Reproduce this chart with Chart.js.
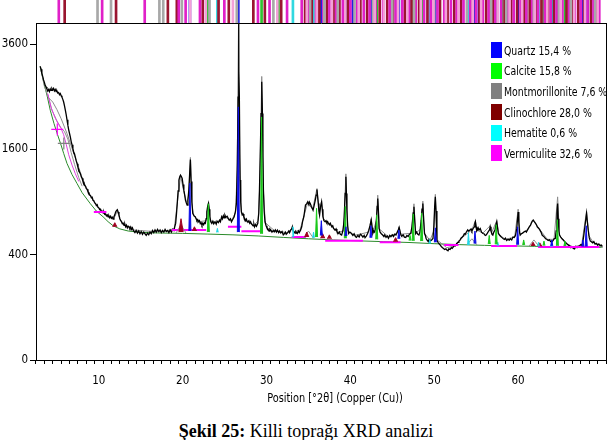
<!DOCTYPE html>
<html lang="tr">
<head>
<meta charset="UTF-8">
<title>Killi toprağı XRD analizi</title>
<script src="https://cdn.jsdelivr.net/npm/chart.js"></script>
<style>
  body { margin: 0; background: #fff; }
  .wrap { position: relative; width: 612px; height: 440px; overflow: hidden; }
  #xrd { position: absolute; left: 0; top: 0; }
  .narrow { font-family: 'DejaVu Sans Condensed', 'DejaVu Sans', sans-serif; font-stretch: condensed; }
  .legend { position: absolute; left: 491px; top: 40px; font-size: 13px; color: #000; }
  .legend .row { height: 20.6px; display: flex; align-items: center; white-space: nowrap; }
  .legend .sw { width: 11px; height: 16px; margin-right: 2px; flex: none; }
  .legend .txt { display: inline-block; transform: scaleX(0.8); transform-origin: left center; }
  .xtitle { position: absolute; left: 235px; width: 200px; top: 390px; text-align: center; font-size: 12.5px;
            transform: scaleX(0.87); }
  .caption { position: absolute; left: 0; width: 612px; top: 421px; text-align: center;
             font: 18px 'Liberation Serif', 'Times New Roman', serif; }
</style>
</head>
<body>
<div class="wrap">
  <canvas id="xrd" width="612" height="400"></canvas>
  <div class="legend narrow" id="legend"></div>
  <div class="xtitle narrow">Position [°2θ] (Copper (Cu))</div>
  <div class="caption"><b>Şekil 25:</b> Killi toprağı XRD analizi</div>
</div>

<script>
  // measured pattern, [2theta, counts]
  const observed = [
    [3.0,3110],[3.1,3050],[3.2,2960],[3.3,2900],[3.4,2830],[3.5,2780],[3.6,2720],[3.7,2690],[3.8,2650],[3.9,2610],
    [4.0,2640],[4.1,2600],[4.2,2650],[4.3,2620],[4.4,2660],[4.5,2630],[4.6,2660],[4.7,2610],[4.8,2640],[4.9,2600],
    [5.0,2610],[5.1,2570],[5.2,2580],[5.3,2540],[5.4,2560],[5.5,2520],[5.6,2490],[5.7,2450],[5.8,2400],[5.9,2330],
    [6.0,2250],[6.1,2170],[6.2,2080],[6.3,1990],[6.4,1910],[6.5,1850],[6.6,1790],[6.7,1720],[6.8,1670],[6.9,1610],
    [7.0,1560],[7.1,1530],[7.2,1480],[7.3,1430],[7.4,1390],[7.5,1340],[7.6,1310],[7.7,1270],[7.8,1250],[7.9,1210],
    [8.0,1190],[8.1,1150],[8.2,1140],[8.3,1100],[8.4,1090],[8.5,1060],[8.6,1050],[8.7,1020],[8.8,1010],[8.9,980],
    [9.0,975],[9.1,950],[9.2,955],[9.3,920],[9.4,915],[9.5,890],[9.6,885],[9.7,860],[9.8,870],[9.9,840],
    [10.0,835],[10.1,815],[10.2,820],[10.3,795],[10.4,800],[10.5,780],[10.6,790],[10.7,765],[10.8,770],[10.9,750],
    [11.0,760],[11.1,740],[11.2,750],[11.3,730],[11.4,745],[11.5,725],[11.6,735],[11.7,715],[11.8,740],[11.9,760],
    [12.0,790],[12.1,805],[12.2,815],[12.3,790],[12.4,760],[12.5,720],[12.6,700],[12.7,690],[12.8,670],[12.9,675],
    [13.0,655],[13.1,665],[13.2,640],[13.3,655],[13.4,630],[13.5,645],[13.6,640],[13.7,625],[13.8,640],[13.9,615],
    [14.0,630],[14.15,600],[14.3,585],[14.45,605],[14.6,580],[14.75,600],[14.9,575],[15.05,595],[15.2,570],[15.35,590],
    [15.5,575],[15.65,560],[15.8,580],[15.95,565],[16.1,590],[16.25,575],[16.4,605],[16.55,585],[16.7,610],[16.85,590],
    [17.0,615],[17.15,595],[17.3,610],[17.45,585],[17.6,605],[17.75,590],[17.9,615],[18.05,595],[18.2,605],[18.35,585],
    [18.5,610],[18.65,590],[18.8,615],[18.95,605],[19.05,640],[19.16,673],[19.25,760],[19.35,884],[19.45,1030],[19.55,1167],
    [19.65,1210],[19.74,1232],[19.84,1215],[19.94,1190],[20.04,1110],[20.14,1041],[20.24,980],[20.33,922],[20.43,890],[20.53,865],
    [20.63,930],[20.73,1041],[20.83,1250],[20.92,1450],[21.0,1150],[21.1,900],[21.2,775],[21.3,760],[21.4,745],[21.5,740],
    [21.6,720],[21.7,700],[21.8,710],[21.9,689],[22.0,700],[22.1,670],[22.2,680],[22.3,656],[22.4,675],[22.5,660],
    [22.6,680],[22.7,673],[22.8,720],[22.88,792],[22.98,850],[23.08,884],[23.16,820],[23.24,740],[23.35,690],[23.47,673],
    [23.6,695],[23.7,670],[23.86,689],[24.0,665],[24.1,695],[24.26,680],[24.4,705],[24.5,690],[24.65,740],[24.75,720],
    [24.85,750],[24.95,730],[25.04,757],[25.15,735],[25.3,745],[25.43,723],[25.55,705],[25.7,720],[25.82,689],[25.95,710],
    [26.05,725],[26.14,740],[26.3,800],[26.41,884],[26.52,1393],[26.61,2494],[26.66,4096],[26.71,3000],[26.76,2494],[26.84,1167],
    [26.92,900],[27.0,792],[27.1,760],[27.2,770],[27.3,735],[27.39,723],[27.5,700],[27.6,715],[27.7,690],[27.79,689],
    [27.9,700],[28.0,675],[28.1,690],[28.18,673],[28.3,660],[28.4,650],[28.5,665],[28.57,640],[28.7,660],[28.8,645],
    [28.96,673],[29.08,780],[29.16,1041],[29.25,1500],[29.35,2191],[29.43,2790],[29.51,2191],[29.57,1500],[29.63,1041],[29.72,800],
    [29.82,689],[29.95,650],[30.05,630],[30.14,624],[30.3,600],[30.4,620],[30.53,608],[30.65,590],[30.8,605],[30.92,593],
    [31.05,610],[31.18,590],[31.3,608],[31.45,585],[31.55,600],[31.7,583],[31.85,595],[32.0,565],[32.1,572],[32.25,590],
    [32.35,570],[32.5,583],[32.65,600],[32.75,585],[32.88,608],[33.0,620],[33.08,640],[33.17,600],[33.27,593],[33.4,580],
    [33.5,595],[33.67,577],[33.8,600],[33.9,585],[34.06,608],[34.2,640],[34.3,690],[34.45,740],[34.55,800],[34.65,865],
    [34.78,880],[34.92,903],[35.05,870],[35.12,900],[35.22,884],[35.35,850],[35.45,830],[35.55,810],[35.68,860],[35.82,922],
    [35.92,980],[36.02,1049],[36.1,960],[36.18,884],[36.25,800],[36.33,757],[36.45,850],[36.57,903],[36.65,820],[36.73,740],
    [36.85,700],[37.0,689],[37.1,700],[37.2,680],[37.3,690],[37.39,673],[37.5,660],[37.6,675],[37.79,640],[37.9,650],
    [38.0,625],[38.18,608],[38.3,620],[38.4,595],[38.57,577],[38.7,590],[38.8,570],[38.96,563],[39.1,600],[39.2,660],
    [39.27,740],[39.38,1000],[39.47,1210],[39.53,1000],[39.59,810],[39.68,650],[39.79,577],[39.95,590],[40.14,577],[40.3,560],
    [40.45,575],[40.6,550],[40.73,542],[40.9,560],[41.05,545],[41.2,570],[41.32,563],[41.5,545],[41.65,560],[41.75,540],
    [41.9,554],[42.05,575],[42.2,608],[42.35,650],[42.49,706],[42.6,630],[42.68,577],[42.8,600],[42.9,590],[43.0,624],
    [43.12,720],[43.2,850],[43.27,941],[43.35,800],[43.43,624],[43.55,590],[43.7,575],[43.86,563],[44.0,550],[44.1,565],
    [44.26,542],[44.4,555],[44.55,535],[44.7,560],[44.84,548],[45.0,565],[45.15,550],[45.3,570],[45.44,563],[45.6,590],
    [45.72,610],[45.82,634],[45.95,590],[46.05,560],[46.14,554],[46.3,565],[46.45,545],[46.61,542],[46.75,560],[46.9,550],
    [47.05,570],[47.2,577],[47.35,640],[47.5,780],[47.59,846],[47.68,700],[47.79,577],[47.9,590],[48.05,570],[48.18,563],
    [48.3,590],[48.45,700],[48.55,820],[48.65,884],[48.75,700],[48.85,577],[48.95,560],[49.05,530],[49.16,518],[49.3,505],
    [49.4,525],[49.55,512],[49.7,520],[49.86,533],[49.97,650],[50.06,850],[50.14,960],[50.22,800],[50.33,518],[50.45,500],
    [50.55,490],[50.73,476],[50.85,465],[51.0,455],[51.12,449],[51.25,440],[51.4,445],[51.51,436],[51.65,430],[51.75,445],
    [51.9,441],[52.05,455],[52.15,450],[52.29,462],[52.45,475],[52.55,470],[52.69,490],[52.85,500],[52.95,510],[53.08,518],
    [53.2,535],[53.35,545],[53.47,554],[53.6,575],[53.7,570],[53.86,593],[54.0,610],[54.1,600],[54.26,608],[54.4,620],
    [54.5,600],[54.65,624],[54.78,640],[54.85,670],[54.92,690],[55.0,640],[55.08,600],[55.15,608],[55.25,630],[55.35,610],
    [55.5,624],[55.65,590],[55.82,577],[55.95,575],[56.1,560],[56.21,563],[56.35,580],[56.5,600],[56.6,610],[56.68,640],
    [56.78,600],[56.9,570],[57.0,563],[57.12,590],[57.25,610],[57.35,650],[57.47,690],[57.55,640],[57.65,580],[57.79,563],
    [57.95,550],[58.1,540],[58.25,530],[58.38,524],[58.5,535],[58.65,515],[58.8,525],[58.96,518],[59.1,530],[59.25,520],
    [59.4,545],[59.55,542],[59.7,560],[59.85,620],[59.95,720],[60.02,790],[60.1,680],[60.18,590],[60.26,563],[60.4,575],
    [60.55,580],[60.73,593],[60.9,600],[61.0,590],[61.12,608],[61.25,625],[61.35,640],[61.5,656],[61.6,680],[61.7,695],
    [61.82,706],[61.95,690],[62.1,673],[62.2,660],[62.3,640],[62.49,624],[62.6,610],[62.75,590],[62.88,563],[63.0,555],
    [63.15,545],[63.3,530],[63.47,524],[63.6,515],[63.75,520],[63.9,505],[64.06,504],[64.2,515],[64.3,530],[64.45,533],
    [64.55,600],[64.65,780],[64.73,884],[64.8,720],[64.88,600],[64.96,563],[65.1,545],[65.25,530],[65.43,518],[65.55,505],
    [65.7,495],[65.85,485],[66.02,476],[66.15,470],[66.3,455],[66.45,460],[66.61,449],[66.75,445],[66.9,465],[67.05,455],
    [67.2,462],[67.35,470],[67.5,480],[67.6,475],[67.71,490],[67.85,560],[67.98,640],[68.1,720],[68.18,775],[68.26,700],
    [68.38,608],[68.5,540],[68.63,510],[68.76,504],[68.9,495],[69.05,505],[69.2,485],[69.35,490],[69.5,475],[69.65,485],
    [69.8,470],[69.94,476],[70.0,470]
  ];

  // calculated profile (thin grey)
  const calculated = [
    [3.0,3110],[3.5,2700],[4.0,2480],[4.5,2400],[5.0,2260],[5.5,2100],[6.2,1850],[7.0,1540],[7.5,1370],[8.0,1200],
    [8.5,1070],[9.0,970],[9.5,890],[10.0,830],[10.5,780],[11.0,745],[11.5,725],[11.9,740],[12.2,800],[12.5,720],
    [13.0,655],[14.0,610],[16.0,598],[18.0,598],[19.0,625],[19.4,920],[19.75,1220],[20.1,1040],[20.5,880],[20.75,1000],
    [20.92,1480],[21.1,880],[21.3,750],[22.0,690],[22.8,700],[23.08,900],[23.3,700],[24.0,680],[25.0,740],[25.8,700],
    [26.3,780],[26.5,1300],[26.66,4096],[26.8,1500],[27.0,800],[27.5,700],[28.5,650],[29.0,700],[29.2,1100],[29.43,2900],
    [29.65,1000],[29.85,680],[31.0,600],[32.5,585],[33.1,630],[33.3,592],[34.0,610],[34.5,760],[34.9,890],[35.5,820],
    [36.02,1060],[36.3,770],[36.57,910],[36.8,720],[37.5,665],[38.5,590],[39.2,600],[39.47,1250],[39.7,600],[40.5,560],
    [42.2,590],[42.49,720],[42.7,590],[43.1,700],[43.27,980],[43.45,620],[44.5,550],[45.6,580],[45.82,640],[46.0,570],
    [47.3,580],[47.59,880],[47.8,580],[48.4,620],[48.65,910],[48.85,580],[49.5,515],[49.95,600],[50.14,990],[50.35,520],
    [51.5,455],[52.5,470],[53.5,550],[54.5,610],[54.92,700],[55.1,610],[55.8,580],[56.68,650],[56.85,585],[57.47,700],
    [57.7,570],[58.5,525],[59.6,545],[60.02,820],[60.25,570],[61.0,600],[61.82,700],[62.5,625],[63.5,525],[64.3,525],
    [64.73,960],[64.95,560],[65.8,490],[66.6,460],[67.6,480],[68.18,800],[68.45,560],[69.0,495],[70.0,475]
  ];

  const background = [
    [3.0,3110],[3.4,2800],[3.86,2494],[4.2,2250],[4.65,2015],[5.0,1860],[5.43,1690],[5.8,1540],[6.2,1393],[6.8,1240],
    [7.39,1124],[8.0,1010],[8.96,884],[9.7,800],[10.5,740],[11.1,690],[11.7,650],[12.5,620],[13.5,600],[15.0,588],
    [17.0,582],[20.0,578],[23.0,572],[26.0,565],[29.0,555],[32.0,542],[35.0,530],[38.0,520],[41.0,512],[44.0,505],
    [47.0,498],[50.0,488],[53.0,480],[56.0,474],[59.0,470],[62.0,466],[65.0,462],[68.0,460],[70.0,458]
  ];

  // low-angle phase profiles and their markers
  const vermLow = [[3.9,2560],[4.3,2300],[4.8,2110],[5.2,2000],[5.5,1930],[5.8,1830],[6.1,1680],[6.4,1520],[6.8,1370],[7.2,1250],[7.6,1150]];
  const montLow = [[3.9,2540],[4.4,2250],[5.0,2060],[5.5,1940],[5.9,1880],[6.3,1760],[6.7,1550],[7.1,1380],[7.6,1200],[8.0,1090]];
  const vermMark = [[5.04,1917]];
  const montMark = [[5.82,1691]];

  // fitted phase peaks: position, base, top
  const quartzPos  = [20.86, 26.64, 36.54, 39.47, 42.45, 45.79, 50.14, 54.87, 59.96, 64.03, 67.74, 68.14];
  const quartzBase = [600, 590, 560, 555, 540, 530, 500, 490, 480, 470, 465, 465];
  const quartzTop  = [1128, 2310, 700, 640, 650, 610, 630, 600, 640, 520, 520, 650];

  const calcitePos  = [23.06, 29.41, 35.97, 39.40, 43.15, 47.12, 47.50, 48.51, 56.57, 57.40, 60.68, 63.10, 64.70, 65.60];
  const calciteBase = [590, 575, 545, 535, 525, 515, 512, 510, 485, 483, 478, 472, 470, 468];
  const calciteTop  = [880, 2130, 830, 850, 760, 560, 770, 780, 560, 660, 520, 510, 710, 510];

  const montPos  = [19.80, 35.00, 54.50, 61.90];
  const montBase = [580, 535, 478, 466];
  const montTop  = [660, 600, 530, 520];

  const clinoPos  = [11.90, 19.80, 21.40, 34.80, 36.70, 37.50, 45.40, 61.80, 62.60];
  const clinoBase = [640, 590, 600, 545, 535, 530, 505, 468, 466];
  const clinoTop  = [680, 720, 640, 590, 575, 565, 540, 500, 495];

  const hemPos  = [24.14, 33.15, 35.61, 49.48, 54.09, 57.59, 62.45, 64.00];
  const hemBase = [588, 545, 540, 490, 478, 472, 466, 464];
  const hemTop  = [625, 640, 590, 525, 585, 500, 500, 490];

  const vermStart = [9.4, 18.7, 25.4, 27.0, 33.0, 37.0, 43.5, 51.2, 56.8, 62.4];
  const vermEnd   = [10.9, 22.8, 27.0, 29.5, 34.7, 41.5, 46.0, 52.9, 59.9, 69.7];
  const vermLevel = [790, 610, 640, 598, 545, 512, 500, 476, 468, 460];

  // reference line positions shown in the strip above the plot
  const quartzRef  = [20.86, 26.64, 36.54, 39.47, 40.29, 42.45, 45.79, 50.14, 54.87, 55.33, 59.96, 64.03, 67.74, 68.14, 68.31];
  const calciteRef = [23.06, 29.41, 31.42, 35.97, 39.40, 43.16, 47.12, 47.50, 48.51, 56.57, 57.40, 58.10, 60.68, 61.00, 63.06, 64.68, 65.60];
  const hemRef     = [24.14, 33.15, 35.61, 40.85, 49.48, 54.09, 57.59, 62.45, 64.00];
  const montRef    = [9.84, 11.45, 17.22, 17.68, 19.90, 23.20, 26.45, 30.82, 35.2, 36.9, 38.5, 40.5, 42.7, 45.0, 47.6, 50.0, 53.9, 56.8, 58.6, 61.9, 64.9, 66.3, 69.2];
  const clinoRef   = [5.92, 12.05, 18.23, 19.30, 22.39, 24.28, 25.50, 28.43, 29.80, 31.75, 34.6, 35.4, 36.3, 37.2, 38.0, 38.7, 39.7, 41.2, 42.0, 43.5,
                      44.4, 45.1, 46.5, 47.3, 48.2, 49.2, 50.7, 51.6, 52.4, 53.2, 54.6, 55.4, 56.2, 57.0, 58.4, 59.2, 59.9, 60.7, 61.4, 62.1,
                      62.8, 63.6, 64.3, 65.0, 65.8, 66.5, 67.2, 67.9, 68.7, 69.4];
  const vermRef    = [5.22, 10.39, 15.47, 19.53, 20.35, 22.06, 24.97, 28.98, 30.36, 32.45, 34.2, 35.0, 35.9, 36.8, 37.5, 38.3, 39.1, 40.0, 40.8, 41.6,
                      42.3, 43.0, 43.9, 44.7, 45.4, 46.2, 47.0, 47.8, 48.8, 49.6, 50.4, 51.2, 52.0, 52.7, 53.5, 54.3, 55.0, 55.8, 56.5, 57.3,
                      58.0, 58.8, 59.5, 60.3, 61.0, 61.7, 62.4, 63.2, 63.9, 64.6, 65.3, 66.1, 66.8, 67.5, 68.3, 69.0, 69.7];
  const vermRefLight = [20.9, 22.75, 25.99, 31.29, 34.8, 36.0, 37.8, 39.4, 41.0, 42.9, 44.0, 45.7, 46.8, 48.4, 49.9, 51.4, 52.9, 54.6, 55.6, 57.6,
                        59.0, 60.5, 62.0, 63.5, 65.1, 66.7, 68.0, 69.5];

  const phaseNames   = ['Quartz', 'Calcite', 'Montmorillonite', 'Clinochlore', 'Hematite', 'Vermiculite'];
  const phasePercent = ['15,4', '15,8', '7,6', '28,0', '0,6', '32,6'];
  const phaseColors  = ['#0000ff', '#00ff00', '#808080', '#800000', '#00ffff', '#ff00ff'];

  const yTicks = [0, 400, 1600, 3600];
  const yTop = 4096;

  // square-root intensity axis
  class SqrtScale extends Chart.LinearScale {
    getPixelForValue(value) {
      const lo = Math.sqrt(this.min), hi = Math.sqrt(this.max);
      return this.getPixelForDecimal((Math.sqrt(Math.max(value, 0)) - lo) / (hi - lo));
    }
    getValueForPixel(pixel) {
      const lo = Math.sqrt(this.min), hi = Math.sqrt(this.max);
      const s = lo + this.getDecimalForPixel(pixel) * (hi - lo);
      return s * s;
    }
  }
  SqrtScale.id = 'sqrt';
  SqrtScale.defaults = Chart.LinearScale.defaults;
  Chart.register(SqrtScale);

  function peakShapes(pos, base, top, hw) {
    const pts = [];
    pos.forEach((p, i) => {
      pts.push({x: p - hw, y: base[i]}, {x: p, y: top[i]}, {x: p + hw, y: base[i]}, {x: p + hw, y: null});
    });
    return pts;
  }

  function bands(start, end, level) {
    const pts = [];
    start.forEach((s, i) => {
      pts.push({x: s, y: level[i]}, {x: end[i], y: level[i]}, {x: end[i], y: null});
    });
    return pts;
  }

  function refLines(pos, color) {
    return {
      type: 'bar', yAxisID: 'yRef', grouped: false, order: 20,
      data: pos.map(p => ({x: p, y: [0, 1]})),
      backgroundColor: color, borderWidth: 0, barThickness: 2
    };
  }

  function lineSet(data, color, width, order, extra) {
    return Object.assign({
      type: 'line', yAxisID: 'y', data: data, borderColor: color, backgroundColor: color,
      borderWidth: width, pointRadius: 0, fill: false, tension: 0, order: order, spanGaps: false
    }, extra || {});
  }

  function marker(data, color) {
    return lineSet(data, color, 1.2, 2, { showLine: false, pointRadius: 6, pointStyle: 'cross', pointBorderColor: color });
  }

  const font = { family: "'DejaVu Sans Condensed', 'DejaVu Sans', sans-serif", size: 11.5, style: 'condensed' };

  // drop the label padding so the plot fills the canvas top like the original
  const noPad = s => { s.paddingTop = 0; s.paddingBottom = 0; s.paddingLeft = 0; s.paddingRight = 0; };

  new Chart(document.getElementById('xrd'), {
    type: 'line',
    data: {
      datasets: [
        marker(vermMark, '#ff00ff'),
        marker(montMark, '#808080'),
        lineSet(peakShapes(quartzPos, quartzBase, quartzTop, 0.12), '#0a0ae6', 1, 1, {fill: 'shape'}),
        lineSet(peakShapes(calcitePos, calciteBase, calciteTop, 0.12), '#19c819', 1, 1, {fill: 'shape'}),
        lineSet(peakShapes(hemPos, hemBase, hemTop, 0.1), '#20d8e8', 1, 1, {fill: 'shape'}),
        lineSet(peakShapes(clinoPos, clinoBase, clinoTop, 0.25), '#a00020', 1, 2, {fill: 'shape'}),
        lineSet(peakShapes(montPos, montBase, montTop, 0.6), '#909090', 1, 2),
        lineSet(bands(vermStart, vermEnd, vermLevel), '#ff00ff', 2, 2),
        lineSet(vermLow, '#e040e0', 1, 2),
        lineSet(montLow, '#909090', 1, 2),
        lineSet(observed, '#000000', 1.3, 4),
        lineSet(calculated, '#8c8c8c', 1, 5),
        lineSet(background, '#2a8a2a', 1, 6),
        refLines(vermRefLight, '#f3a0d8'),
        refLines(montRef, '#a8a8a8'),
        refLines(vermRef, '#e020c8'),
        refLines(clinoRef, '#9a1530'),
        refLines(hemRef, '#30d8e0'),
        refLines(calciteRef, '#30c030'),
        refLines(quartzRef, '#2020e0')
      ]
    },
    options: {
      responsive: false,
      animation: false,
      layout: { autoPadding: false, padding: { top: 0, right: 6, bottom: 0, left: 0 } },
      plugins: { legend: { display: false }, tooltip: { enabled: false } },
      scales: {
        x: {
          type: 'linear', min: 3, max: 70, bounds: 'data',
          ticks: {
            stepSize: 1, autoSkip: false, maxTicksLimit: 200, maxRotation: 0, padding: 10,
            color: '#000', font: font,
            callback: v => (v % 10 === 0 && v < 70 ? v : '')
          },
          grid: { drawOnChartArea: false, tickLength: 4, tickColor: '#000' },
          border: { color: '#000', width: 1 },
          afterFit: s => { s.height = 40; noPad(s); }
        },
        y: {
          type: 'sqrt', min: 0, max: yTop, bounds: 'data', position: 'left', stack: 'v', stackWeight: 337,
          afterBuildTicks: s => { s.ticks = yTicks.concat([yTop]).map(v => ({value: v})); },
          ticks: { color: '#000', font: font, padding: 2, callback: v => (v === yTop ? '' : v) },
          grid: {
            color: c => (c.tick && c.tick.value === yTop ? '#000' : 'rgba(0,0,0,0)'),
            tickColor: c => (c.tick && c.tick.value === yTop ? 'rgba(0,0,0,0)' : '#000'),
            tickLength: 6
          },
          border: { color: '#000', width: 1 },
          afterFit: s => { s.width = 36; noPad(s); }
        },
        yRef: {
          type: 'linear', min: 0, max: 1, position: 'left', stack: 'v', stackWeight: 23,
          ticks: { display: false }, grid: { display: false }, border: { display: false },
          afterFit: s => { s.width = 36; noPad(s); }
        },
        yRefR: {
          type: 'linear', min: 0, max: 1, position: 'right', stack: 'r', stackWeight: 23,
          ticks: { display: false }, grid: { display: false }, border: { display: false },
          afterFit: s => { s.width = 0; noPad(s); }
        },
        yR: {
          type: 'linear', min: 0, max: 1, position: 'right', stack: 'r', stackWeight: 337,
          ticks: { display: false }, grid: { display: false }, border: { color: '#000', width: 1 },
          afterFit: s => { s.width = 0; noPad(s); }
        }
      }
    }
  });

  const legend = document.getElementById('legend');
  phaseNames.forEach((name, i) => {
    const row = document.createElement('div');
    row.className = 'row';
    row.innerHTML = '<span class="sw" style="background:' + phaseColors[i] + '"></span>' +
      '<span class="txt">' + name + ' ' + phasePercent[i] + ' %</span>';
    legend.appendChild(row);
  });
</script>
</body>
</html>
